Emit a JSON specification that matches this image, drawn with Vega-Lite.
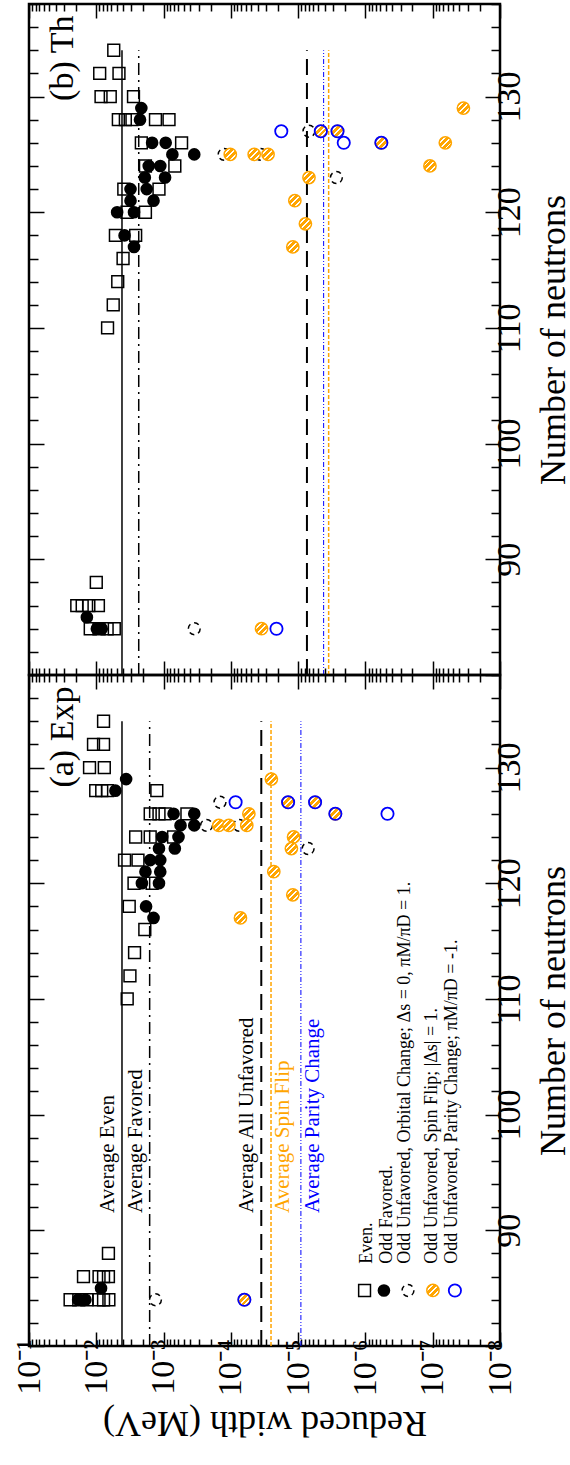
{
"$schema":"https://vega.github.io/schema/vega-lite/v6.json",
"padding":{"left":10,"top":2,"right":0,"bottom":0},
"background":"white",
"spacing":0,
"bounds":"flush",
"config":{"view":{"stroke":"black","strokeWidth":2.5},"font":"Liberation Serif",
"axis":{"grid":false,"domain":false,"tickColor":"black","tickWidth":1.5,"labelColor":"black","titleColor":"black","labelFont":"Liberation Serif","titleFont":"Liberation Serif","labelFontSize":34,"titleFontSize":36,"titleFontWeight":"normal","labelOverlap":false,"labelFlush":false,"labelBound":false},
"text":{"font":"Liberation Serif"}},
"datasets":{
"pts":[
{"p":"a","t":"E","n":134,"w":0.0078},{"p":"a","t":"E","n":132,"w":0.011},{"p":"a","t":"E","n":132,"w":0.0078},{"p":"a","t":"E","n":130,"w":0.0126},{"p":"a","t":"E","n":130,"w":0.0076},{"p":"a","t":"E","n":128,"w":0.0102},{"p":"a","t":"E","n":128,"w":0.0083},{"p":"a","t":"E","n":128,"w":0.0068},{"p":"a","t":"E","n":128,"w":0.00126},{"p":"a","t":"E","n":126,"w":0.00158},{"p":"a","t":"E","n":126,"w":0.00117},{"p":"a","t":"E","n":126,"w":0.00095},{"p":"a","t":"E","n":126,"w":0.00045},{"p":"a","t":"E","n":124,"w":0.0026},{"p":"a","t":"E","n":124,"w":0.00158},{"p":"a","t":"E","n":124,"w":0.00071},{"p":"a","t":"E","n":122,"w":0.0038},{"p":"a","t":"E","n":122,"w":0.0024},{"p":"a","t":"E","n":120,"w":0.00275},{"p":"a","t":"E","n":120,"w":0.00148},{"p":"a","t":"E","n":118,"w":0.00324},{"p":"a","t":"E","n":116,"w":0.0019},{"p":"a","t":"E","n":114,"w":0.0027},{"p":"a","t":"E","n":112,"w":0.00316},{"p":"a","t":"E","n":110,"w":0.00347},{"p":"a","t":"E","n":88,"w":0.0066},{"p":"a","t":"E","n":86,"w":0.0155},{"p":"a","t":"E","n":86,"w":0.0091},{"p":"a","t":"E","n":86,"w":0.0078},{"p":"a","t":"E","n":86,"w":0.0066},{"p":"a","t":"E","n":84,"w":0.0245},{"p":"a","t":"E","n":84,"w":0.0182},{"p":"a","t":"E","n":84,"w":0.0138},{"p":"a","t":"E","n":84,"w":0.0091},{"p":"a","t":"E","n":84,"w":0.0078},{"p":"a","t":"E","n":84,"w":0.0065},
{"p":"a","t":"F","n":129,"w":0.0036},{"p":"a","t":"F","n":128,"w":0.0052},{"p":"a","t":"F","n":126,"w":0.00071},{"p":"a","t":"F","n":126,"w":0.00035},{"p":"a","t":"F","n":125,"w":0.00056},{"p":"a","t":"F","n":125,"w":0.00035},{"p":"a","t":"F","n":124,"w":0.00105},{"p":"a","t":"F","n":124,"w":0.0006},{"p":"a","t":"F","n":123,"w":0.00117},{"p":"a","t":"F","n":123,"w":0.00068},{"p":"a","t":"F","n":122,"w":0.00158},{"p":"a","t":"F","n":122,"w":0.00112},{"p":"a","t":"F","n":121,"w":0.00186},{"p":"a","t":"F","n":121,"w":0.00112},{"p":"a","t":"F","n":120,"w":0.0021},{"p":"a","t":"F","n":120,"w":0.00117},{"p":"a","t":"F","n":118,"w":0.00182},{"p":"a","t":"F","n":117,"w":0.00141},{"p":"a","t":"F","n":85,"w":0.0085},{"p":"a","t":"F","n":84,"w":0.0186},{"p":"a","t":"F","n":84,"w":0.0145},
{"p":"a","t":"O","n":127,"w":0.000145},{"p":"a","t":"O","n":125,"w":0.00023},{"p":"a","t":"O","n":125,"w":0.000075},{"p":"a","t":"O","n":123,"w":0.0000071},{"p":"a","t":"O","n":84,"w":0.00132},
{"p":"a","t":"S","n":129,"w":0.000025},{"p":"a","t":"S","n":127,"w":0.0000141},{"p":"a","t":"S","n":127,"w":0.0000056},{"p":"a","t":"S","n":126,"w":0.000054},{"p":"a","t":"S","n":126,"w":0.0000028},{"p":"a","t":"S","n":125,"w":0.000151},{"p":"a","t":"S","n":125,"w":0.000107},{"p":"a","t":"S","n":125,"w":0.000058},{"p":"a","t":"S","n":124,"w":0.0000117},{"p":"a","t":"S","n":123,"w":0.0000126},{"p":"a","t":"S","n":121,"w":0.000023},{"p":"a","t":"S","n":119,"w":0.000012},{"p":"a","t":"S","n":117,"w":0.000072},{"p":"a","t":"S","n":84,"w":0.000063},
{"p":"a","t":"P","n":127,"w":0.000085},{"p":"a","t":"P","n":127,"w":0.0000141},{"p":"a","t":"P","n":127,"w":0.0000056},{"p":"a","t":"P","n":126,"w":0.0000028},{"p":"a","t":"P","n":126,"w":0.00000047},{"p":"a","t":"P","n":84,"w":0.000063},
{"p":"b","t":"E","n":134,"w":0.0055},{"p":"b","t":"E","n":132,"w":0.0089},{"p":"b","t":"E","n":132,"w":0.0046},{"p":"b","t":"E","n":130,"w":0.0085},{"p":"b","t":"E","n":130,"w":0.0062},{"p":"b","t":"E","n":130,"w":0.0028},{"p":"b","t":"E","n":128,"w":0.0047},{"p":"b","t":"E","n":128,"w":0.0037},{"p":"b","t":"E","n":128,"w":0.00295},{"p":"b","t":"E","n":128,"w":0.00132},{"p":"b","t":"E","n":128,"w":0.00083},{"p":"b","t":"E","n":126,"w":0.00214},{"p":"b","t":"E","n":126,"w":0.00054},{"p":"b","t":"E","n":124,"w":0.00186},{"p":"b","t":"E","n":124,"w":0.00068},{"p":"b","t":"E","n":122,"w":0.0039},{"p":"b","t":"E","n":122,"w":0.00117},{"p":"b","t":"E","n":120,"w":0.0035},{"p":"b","t":"E","n":120,"w":0.00186},{"p":"b","t":"E","n":118,"w":0.0052},{"p":"b","t":"E","n":118,"w":0.0026},{"p":"b","t":"E","n":116,"w":0.004},{"p":"b","t":"E","n":114,"w":0.0048},{"p":"b","t":"E","n":112,"w":0.0056},{"p":"b","t":"E","n":110,"w":0.0068},{"p":"b","t":"E","n":88,"w":0.01},{"p":"b","t":"E","n":86,"w":0.0195},{"p":"b","t":"E","n":86,"w":0.0162},{"p":"b","t":"E","n":86,"w":0.0129},{"p":"b","t":"E","n":86,"w":0.0093},{"p":"b","t":"E","n":84,"w":0.0123},{"p":"b","t":"E","n":84,"w":0.0091},{"p":"b","t":"E","n":84,"w":0.0069},{"p":"b","t":"E","n":84,"w":0.0054},
{"p":"b","t":"F","n":129,"w":0.00214},{"p":"b","t":"F","n":128,"w":0.00224},{"p":"b","t":"F","n":126,"w":0.00148},{"p":"b","t":"F","n":126,"w":0.00093},{"p":"b","t":"F","n":125,"w":0.00074},{"p":"b","t":"F","n":125,"w":0.00035},{"p":"b","t":"F","n":124,"w":0.00166},{"p":"b","t":"F","n":124,"w":0.00112},{"p":"b","t":"F","n":123,"w":0.0019},{"p":"b","t":"F","n":123,"w":0.00095},{"p":"b","t":"F","n":122,"w":0.0031},{"p":"b","t":"F","n":122,"w":0.00178},{"p":"b","t":"F","n":121,"w":0.0031},{"p":"b","t":"F","n":121,"w":0.00141},{"p":"b","t":"F","n":120,"w":0.0049},{"p":"b","t":"F","n":120,"w":0.00275},{"p":"b","t":"F","n":118,"w":0.0038},{"p":"b","t":"F","n":117,"w":0.00275},{"p":"b","t":"F","n":85,"w":0.0138},{"p":"b","t":"F","n":84,"w":0.0098},{"p":"b","t":"F","n":84,"w":0.0083},
{"p":"b","t":"O","n":127,"w":0.0000069},{"p":"b","t":"O","n":125,"w":0.000126},{"p":"b","t":"O","n":125,"w":0.000036},{"p":"b","t":"O","n":123,"w":0.0000027},{"p":"b","t":"O","n":84,"w":0.00035},
{"p":"b","t":"S","n":129,"w":0.000000035},{"p":"b","t":"S","n":127,"w":0.0000046},{"p":"b","t":"S","n":127,"w":0.0000026},{"p":"b","t":"S","n":126,"w":0.00000058},{"p":"b","t":"S","n":126,"w":0.000000065},{"p":"b","t":"S","n":125,"w":0.000102},{"p":"b","t":"S","n":125,"w":0.000045},{"p":"b","t":"S","n":125,"w":0.000028},{"p":"b","t":"S","n":124,"w":0.00000011},{"p":"b","t":"S","n":123,"w":0.0000069},{"p":"b","t":"S","n":121,"w":0.0000112},{"p":"b","t":"S","n":119,"w":0.0000078},{"p":"b","t":"S","n":117,"w":0.000012},{"p":"b","t":"S","n":84,"w":0.000035},
{"p":"b","t":"P","n":127,"w":0.0000178},{"p":"b","t":"P","n":127,"w":0.0000046},{"p":"b","t":"P","n":127,"w":0.0000026},{"p":"b","t":"P","n":126,"w":0.0000021},{"p":"b","t":"P","n":126,"w":0.00000058},{"p":"b","t":"P","n":84,"w":0.000021}
],
"avg":[
{"p":"a","k":"even","w":0.00415,"label":"Average Even"},{"p":"a","k":"fav","w":0.00161,"label":"Average Favored"},{"p":"a","k":"unf","w":0.0000353,"label":"Average All Unfavored"},{"p":"a","k":"spin","w":0.0000253,"label":"Average Spin Flip"},{"p":"a","k":"par","w":0.0000091,"label":"Average Parity Change"},
{"p":"b","k":"even","w":0.00415,"label":""},{"p":"b","k":"fav","w":0.00234,"label":""},{"p":"b","k":"unf","w":0.0000074,"label":""},{"p":"b","k":"spin","w":0.00000352,"label":""},{"p":"b","k":"par","w":0.00000418,"label":""}
]},
"vconcat":[
{"width":471,"height":671,"resolve":{"axis":{"x":"independent","y":"independent"}},
"layer":[
{"data":{"name":"avg"},"transform":[{"filter":"datum.p=='b' && datum.k=='even'"}],"mark":{"type":"rule","color":"black","strokeWidth":1.5},"encoding":{"x":{"field":"w","type":"quantitative","scale":{"type":"log","domain":[1e-8,0.1],"reverse":true},"axis":null},"y":{"datum":80,"type":"quantitative","scale":{"domain":[80,138],"nice":false,"zero":false},"axis":null},"y2":{"datum":134}}},
{"data":{"name":"avg"},"transform":[{"filter":"datum.p=='b' && datum.k=='fav'"}],"mark":{"type":"rule","color":"black","strokeWidth":1.5,"strokeDash":[12,5,2,5]},"encoding":{"x":{"field":"w","type":"quantitative","scale":{"type":"log","domain":[1e-8,0.1],"reverse":true},"axis":null},"y":{"datum":80,"type":"quantitative","scale":{"domain":[80,138],"nice":false,"zero":false},"axis":null},"y2":{"datum":134}}},
{"data":{"name":"avg"},"transform":[{"filter":"datum.p=='b' && datum.k=='unf'"}],"mark":{"type":"rule","color":"black","strokeWidth":2,"strokeDash":[16,8]},"encoding":{"x":{"field":"w","type":"quantitative","scale":{"type":"log","domain":[1e-8,0.1],"reverse":true},"axis":null},"y":{"datum":80,"type":"quantitative","scale":{"domain":[80,138],"nice":false,"zero":false},"axis":null},"y2":{"datum":134}}},
{"data":{"name":"avg"},"transform":[{"filter":"datum.p=='b' && datum.k=='spin'"}],"mark":{"type":"rule","color":"#FFA500","strokeWidth":1.5,"strokeDash":[4,2]},"encoding":{"x":{"field":"w","type":"quantitative","scale":{"type":"log","domain":[1e-8,0.1],"reverse":true},"axis":null},"y":{"datum":80,"type":"quantitative","scale":{"domain":[80,138],"nice":false,"zero":false},"axis":null},"y2":{"datum":134}}},
{"data":{"name":"avg"},"transform":[{"filter":"datum.p=='b' && datum.k=='par'"}],"mark":{"type":"rule","color":"#0000FF","strokeWidth":1,"strokeDash":[5,2,1,2,1,2]},"encoding":{"x":{"field":"w","type":"quantitative","scale":{"type":"log","domain":[1e-8,0.1],"reverse":true},"axis":null},"y":{"datum":80,"type":"quantitative","scale":{"domain":[80,138],"nice":false,"zero":false},"axis":null},"y2":{"datum":134}}},
{"data":{"name":"pts"},"transform":[{"filter":"datum.p=='b' && datum.t=='E'"}],"mark":{"type":"point","shape":"square","filled":false,"stroke":"black","strokeWidth":1.5,"size":140,"opacity":1},"encoding":{"x":{"field":"w","type":"quantitative","scale":{"type":"log","domain":[1e-8,0.1],"reverse":true},"axis":{"orient":"bottom","values":[1e-8,2e-8,3e-8,4e-8,5e-8,6e-8,7e-8,8e-8,9e-8,1e-7,2e-7,3e-7,4e-7,5e-7,6e-7,7e-7,8e-7,9e-7,1e-6,2e-6,3e-6,4e-6,5e-6,6e-6,7e-6,8e-6,9e-6,1e-5,2e-5,3e-5,4e-5,5e-5,6e-5,7e-5,8e-5,9e-5,0.0001,0.0002,0.0003,0.0004,0.0005,0.0006,0.0007,0.0008,0.0009,0.001,0.002,0.003,0.004,0.005,0.006,0.007,0.008,0.009,0.01,0.02,0.03,0.04,0.05,0.06,0.07,0.08,0.09,0.1],"labels":false,"title":null,"tickSize":{"condition":{"test":"abs(log(datum.value)/LN10 - round(log(datum.value)/LN10)) < 0.001","value":-14},"value":-7}}},"y":{"field":"n","type":"quantitative","scale":{"domain":[80,138],"nice":false,"zero":false},"axis":{"orient":"right","values":[80,82,84,86,88,90,92,94,96,98,100,102,104,106,108,110,112,114,116,118,120,122,124,126,128,130,132,134,136,138],"labelExpr":"datum.value % 10 == 0 && datum.value > 80 ? datum.label : ''","tickSize":{"condition":{"test":"datum.value % 10 == 0","value":-15},"value":-9},"labelAngle":270,"labelAlign":"center","labelBaseline":"top","labelPadding":7,"title":"Number of neutrons","titleAngle":270,"titleBaseline":"top","titlePadding":4}}}},
{"data":{"name":"pts"},"transform":[{"filter":"datum.p=='b' && datum.t=='F'"}],"mark":{"type":"circle","color":"black","size":160,"opacity":1},"encoding":{"x":{"field":"w","type":"quantitative","scale":{"type":"log","domain":[1e-8,0.1],"reverse":true},"axis":{"orient":"top","values":[1e-8,2e-8,3e-8,4e-8,5e-8,6e-8,7e-8,8e-8,9e-8,1e-7,2e-7,3e-7,4e-7,5e-7,6e-7,7e-7,8e-7,9e-7,1e-6,2e-6,3e-6,4e-6,5e-6,6e-6,7e-6,8e-6,9e-6,1e-5,2e-5,3e-5,4e-5,5e-5,6e-5,7e-5,8e-5,9e-5,0.0001,0.0002,0.0003,0.0004,0.0005,0.0006,0.0007,0.0008,0.0009,0.001,0.002,0.003,0.004,0.005,0.006,0.007,0.008,0.009,0.01,0.02,0.03,0.04,0.05,0.06,0.07,0.08,0.09,0.1],"labels":false,"title":null,"tickSize":{"condition":{"test":"abs(log(datum.value)/LN10 - round(log(datum.value)/LN10)) < 0.001","value":-14},"value":-7}}},"y":{"field":"n","type":"quantitative","scale":{"domain":[80,138],"nice":false,"zero":false},"axis":{"orient":"left","values":[80,82,84,86,88,90,92,94,96,98,100,102,104,106,108,110,112,114,116,118,120,122,124,126,128,130,132,134,136,138],"labels":false,"title":null,"tickSize":{"condition":{"test":"datum.value % 10 == 0","value":-15},"value":-9}}}}},
{"data":{"name":"pts"},"transform":[{"filter":"datum.p=='b' && datum.t=='O'"}],"mark":{"type":"point","shape":"circle","filled":false,"stroke":"black","strokeWidth":1.5,"strokeDash":[5,4],"size":140,"opacity":1},"encoding":{"x":{"field":"w","type":"quantitative","scale":{"type":"log","domain":[1e-8,0.1],"reverse":true},"axis":null},"y":{"field":"n","type":"quantitative","scale":{"domain":[80,138],"nice":false,"zero":false},"axis":null}}},
{"data":{"name":"pts"},"transform":[{"filter":"datum.p=='b' && datum.t=='S'"}],"mark":{"type":"point","shape":"circle","filled":true,"opacity":1,"stroke":"#FFA500","strokeWidth":1.5,"size":150,"fill":{"gradient":"linear","x1":0,"y1":0,"x2":1,"y2":1,"stops":[{"offset":0,"color":"#FFA500"},{"offset":0.22,"color":"#FFA500"},{"offset":0.22,"color":"white"},{"offset":0.3,"color":"white"},{"offset":0.3,"color":"#FFA500"},{"offset":0.46,"color":"#FFA500"},{"offset":0.46,"color":"white"},{"offset":0.54,"color":"white"},{"offset":0.54,"color":"#FFA500"},{"offset":0.7,"color":"#FFA500"},{"offset":0.7,"color":"white"},{"offset":0.78,"color":"white"},{"offset":0.78,"color":"#FFA500"},{"offset":1,"color":"#FFA500"}]}},"encoding":{"x":{"field":"w","type":"quantitative","scale":{"type":"log","domain":[1e-8,0.1],"reverse":true},"axis":null},"y":{"field":"n","type":"quantitative","scale":{"domain":[80,138],"nice":false,"zero":false},"axis":null}}},
{"data":{"name":"pts"},"transform":[{"filter":"datum.p=='b' && datum.t=='P'"}],"mark":{"type":"point","shape":"circle","filled":false,"stroke":"#0000FF","strokeWidth":1.8,"size":150,"opacity":1},"encoding":{"x":{"field":"w","type":"quantitative","scale":{"type":"log","domain":[1e-8,0.1],"reverse":true},"axis":null},"y":{"field":"n","type":"quantitative","scale":{"domain":[80,138],"nice":false,"zero":false},"axis":null}}},
{"data":{"values":[{"label":"(b) Th"}]},"mark":{"type":"text","angle":270,"align":"right","baseline":"alphabetic","fontSize":34,"color":"black","font":"Liberation Serif"},"encoding":{"x":{"datum":0.022,"type":"quantitative","scale":{"type":"log","domain":[1e-8,0.1],"reverse":true},"axis":null},"y":{"datum":137,"type":"quantitative","scale":{"domain":[80,138],"nice":false,"zero":false},"axis":null},"text":{"field":"label"}}}
]},
{"width":471,"height":671,"resolve":{"axis":{"x":"independent","y":"independent"}},
"layer":[
{"data":{"name":"avg"},"transform":[{"filter":"datum.p=='a' && datum.k=='even'"}],"mark":{"type":"rule","color":"black","strokeWidth":1.5},"encoding":{"x":{"field":"w","type":"quantitative","scale":{"type":"log","domain":[1e-8,0.1],"reverse":true},"axis":null},"y":{"datum":80,"type":"quantitative","scale":{"domain":[80,138],"nice":false,"zero":false},"axis":null},"y2":{"datum":134}}},
{"data":{"name":"avg"},"transform":[{"filter":"datum.p=='a' && datum.k=='fav'"}],"mark":{"type":"rule","color":"black","strokeWidth":1.5,"strokeDash":[12,5,2,5]},"encoding":{"x":{"field":"w","type":"quantitative","scale":{"type":"log","domain":[1e-8,0.1],"reverse":true},"axis":null},"y":{"datum":80,"type":"quantitative","scale":{"domain":[80,138],"nice":false,"zero":false},"axis":null},"y2":{"datum":134}}},
{"data":{"name":"avg"},"transform":[{"filter":"datum.p=='a' && datum.k=='unf'"}],"mark":{"type":"rule","color":"black","strokeWidth":2,"strokeDash":[16,8]},"encoding":{"x":{"field":"w","type":"quantitative","scale":{"type":"log","domain":[1e-8,0.1],"reverse":true},"axis":null},"y":{"datum":80,"type":"quantitative","scale":{"domain":[80,138],"nice":false,"zero":false},"axis":null},"y2":{"datum":134}}},
{"data":{"name":"avg"},"transform":[{"filter":"datum.p=='a' && datum.k=='spin'"}],"mark":{"type":"rule","color":"#FFA500","strokeWidth":1.5,"strokeDash":[4,2]},"encoding":{"x":{"field":"w","type":"quantitative","scale":{"type":"log","domain":[1e-8,0.1],"reverse":true},"axis":null},"y":{"datum":80,"type":"quantitative","scale":{"domain":[80,138],"nice":false,"zero":false},"axis":null},"y2":{"datum":134}}},
{"data":{"name":"avg"},"transform":[{"filter":"datum.p=='a' && datum.k=='par'"}],"mark":{"type":"rule","color":"#0000FF","strokeWidth":1,"strokeDash":[5,2,1,2,1,2]},"encoding":{"x":{"field":"w","type":"quantitative","scale":{"type":"log","domain":[1e-8,0.1],"reverse":true},"axis":null},"y":{"datum":80,"type":"quantitative","scale":{"domain":[80,138],"nice":false,"zero":false},"axis":null},"y2":{"datum":134}}},
{"data":{"name":"pts"},"transform":[{"filter":"datum.p=='a' && datum.t=='E'"}],"mark":{"type":"point","shape":"square","filled":false,"stroke":"black","strokeWidth":1.5,"size":140,"opacity":1},"encoding":{"x":{"field":"w","type":"quantitative","scale":{"type":"log","domain":[1e-8,0.1],"reverse":true},"axis":{"orient":"bottom","values":[1e-8,2e-8,3e-8,4e-8,5e-8,6e-8,7e-8,8e-8,9e-8,1e-7,2e-7,3e-7,4e-7,5e-7,6e-7,7e-7,8e-7,9e-7,1e-6,2e-6,3e-6,4e-6,5e-6,6e-6,7e-6,8e-6,9e-6,1e-5,2e-5,3e-5,4e-5,5e-5,6e-5,7e-5,8e-5,9e-5,0.0001,0.0002,0.0003,0.0004,0.0005,0.0006,0.0007,0.0008,0.0009,0.001,0.002,0.003,0.004,0.005,0.006,0.007,0.008,0.009,0.01,0.02,0.03,0.04,0.05,0.06,0.07,0.08,0.09,0.1],"labelExpr":"abs(log(datum.value)/LN10 - round(log(datum.value)/LN10)) < 0.001 ? '10' + ['⁰','⁻¹','⁻²','⁻³','⁻⁴','⁻⁵','⁻⁶','⁻⁷','⁻⁸'][-round(log(datum.value)/LN10)] : ''","tickSize":{"condition":{"test":"abs(log(datum.value)/LN10 - round(log(datum.value)/LN10)) < 0.001","value":-14},"value":-7},"labelAngle":270,"labelAlign":"right","labelBaseline":"middle","labelPadding":7,"title":"Reduced width (MeV)","titleAngle":180,"titleBaseline":"bottom","titlePadding":8}},"y":{"field":"n","type":"quantitative","scale":{"domain":[80,138],"nice":false,"zero":false},"axis":{"orient":"right","values":[80,82,84,86,88,90,92,94,96,98,100,102,104,106,108,110,112,114,116,118,120,122,124,126,128,130,132,134,136,138],"labelExpr":"datum.value % 10 == 0 && datum.value > 80 ? datum.label : ''","tickSize":{"condition":{"test":"datum.value % 10 == 0","value":-15},"value":-9},"labelAngle":270,"labelAlign":"center","labelBaseline":"top","labelPadding":7,"title":"Number of neutrons","titleAngle":270,"titleBaseline":"top","titlePadding":4}}}},
{"data":{"name":"pts"},"transform":[{"filter":"datum.p=='a' && datum.t=='F'"}],"mark":{"type":"circle","color":"black","size":160,"opacity":1},"encoding":{"x":{"field":"w","type":"quantitative","scale":{"type":"log","domain":[1e-8,0.1],"reverse":true},"axis":{"orient":"top","values":[1e-8,2e-8,3e-8,4e-8,5e-8,6e-8,7e-8,8e-8,9e-8,1e-7,2e-7,3e-7,4e-7,5e-7,6e-7,7e-7,8e-7,9e-7,1e-6,2e-6,3e-6,4e-6,5e-6,6e-6,7e-6,8e-6,9e-6,1e-5,2e-5,3e-5,4e-5,5e-5,6e-5,7e-5,8e-5,9e-5,0.0001,0.0002,0.0003,0.0004,0.0005,0.0006,0.0007,0.0008,0.0009,0.001,0.002,0.003,0.004,0.005,0.006,0.007,0.008,0.009,0.01,0.02,0.03,0.04,0.05,0.06,0.07,0.08,0.09,0.1],"labels":false,"title":null,"tickSize":{"condition":{"test":"abs(log(datum.value)/LN10 - round(log(datum.value)/LN10)) < 0.001","value":-14},"value":-7}}},"y":{"field":"n","type":"quantitative","scale":{"domain":[80,138],"nice":false,"zero":false},"axis":{"orient":"left","values":[80,82,84,86,88,90,92,94,96,98,100,102,104,106,108,110,112,114,116,118,120,122,124,126,128,130,132,134,136,138],"labels":false,"title":null,"tickSize":{"condition":{"test":"datum.value % 10 == 0","value":-15},"value":-9}}}}},
{"data":{"name":"pts"},"transform":[{"filter":"datum.p=='a' && datum.t=='O'"}],"mark":{"type":"point","shape":"circle","filled":false,"stroke":"black","strokeWidth":1.5,"strokeDash":[5,4],"size":140,"opacity":1},"encoding":{"x":{"field":"w","type":"quantitative","scale":{"type":"log","domain":[1e-8,0.1],"reverse":true},"axis":null},"y":{"field":"n","type":"quantitative","scale":{"domain":[80,138],"nice":false,"zero":false},"axis":null}}},
{"data":{"name":"pts"},"transform":[{"filter":"datum.p=='a' && datum.t=='S'"}],"mark":{"type":"point","shape":"circle","filled":true,"opacity":1,"stroke":"#FFA500","strokeWidth":1.5,"size":150,"fill":{"gradient":"linear","x1":0,"y1":0,"x2":1,"y2":1,"stops":[{"offset":0,"color":"#FFA500"},{"offset":0.22,"color":"#FFA500"},{"offset":0.22,"color":"white"},{"offset":0.3,"color":"white"},{"offset":0.3,"color":"#FFA500"},{"offset":0.46,"color":"#FFA500"},{"offset":0.46,"color":"white"},{"offset":0.54,"color":"white"},{"offset":0.54,"color":"#FFA500"},{"offset":0.7,"color":"#FFA500"},{"offset":0.7,"color":"white"},{"offset":0.78,"color":"white"},{"offset":0.78,"color":"#FFA500"},{"offset":1,"color":"#FFA500"}]}},"encoding":{"x":{"field":"w","type":"quantitative","scale":{"type":"log","domain":[1e-8,0.1],"reverse":true},"axis":null},"y":{"field":"n","type":"quantitative","scale":{"domain":[80,138],"nice":false,"zero":false},"axis":null}}},
{"data":{"name":"pts"},"transform":[{"filter":"datum.p=='a' && datum.t=='P'"}],"mark":{"type":"point","shape":"circle","filled":false,"stroke":"#0000FF","strokeWidth":1.8,"size":150,"opacity":1},"encoding":{"x":{"field":"w","type":"quantitative","scale":{"type":"log","domain":[1e-8,0.1],"reverse":true},"axis":null},"y":{"field":"n","type":"quantitative","scale":{"domain":[80,138],"nice":false,"zero":false},"axis":null}}},
{"data":{"name":"avg"},"transform":[{"filter":"datum.p=='a' && (datum.k=='even' || datum.k=='fav' || datum.k=='unf')"}],"mark":{"type":"text","angle":270,"align":"left","baseline":"alphabetic","dy":-8,"fontSize":21,"color":"black","font":"Liberation Serif"},"encoding":{"x":{"field":"w","type":"quantitative","scale":{"type":"log","domain":[1e-8,0.1],"reverse":true},"axis":null},"y":{"datum":91.5,"type":"quantitative","scale":{"domain":[80,138],"nice":false,"zero":false},"axis":null},"text":{"field":"label"}}},
{"data":{"name":"avg"},"transform":[{"filter":"datum.p=='a' && datum.k=='spin'"}],"mark":{"type":"text","angle":270,"align":"left","baseline":"alphabetic","dy":18,"fontSize":21,"color":"#FFA500","font":"Liberation Serif"},"encoding":{"x":{"field":"w","type":"quantitative","scale":{"type":"log","domain":[1e-8,0.1],"reverse":true},"axis":null},"y":{"datum":91.5,"type":"quantitative","scale":{"domain":[80,138],"nice":false,"zero":false},"axis":null},"text":{"field":"label"}}},
{"data":{"name":"avg"},"transform":[{"filter":"datum.p=='a' && datum.k=='par'"}],"mark":{"type":"text","angle":270,"align":"left","baseline":"alphabetic","dy":18,"fontSize":21,"color":"#0000FF","font":"Liberation Serif"},"encoding":{"x":{"field":"w","type":"quantitative","scale":{"type":"log","domain":[1e-8,0.1],"reverse":true},"axis":null},"y":{"datum":91.5,"type":"quantitative","scale":{"domain":[80,138],"nice":false,"zero":false},"axis":null},"text":{"field":"label"}}},
{"data":{"values":[{"label":"(a) Exp"}]},"mark":{"type":"text","angle":270,"align":"right","baseline":"alphabetic","fontSize":34,"color":"black","font":"Liberation Serif"},"encoding":{"x":{"datum":0.022,"type":"quantitative","scale":{"type":"log","domain":[1e-8,0.1],"reverse":true},"axis":null},"y":{"datum":137,"type":"quantitative","scale":{"domain":[80,138],"nice":false,"zero":false},"axis":null},"text":{"field":"label"}}},
{"data":{"values":[{"label":"Even."}]},"layer":[
{"mark":{"type":"point","shape":"square","filled":false,"stroke":"black","strokeWidth":1.5,"size":140,"opacity":1},"encoding":{"x":{"datum":1.03e-6,"type":"quantitative","scale":{"type":"log","domain":[1e-8,0.1],"reverse":true},"axis":null},"y":{"datum":84.8,"type":"quantitative","scale":{"domain":[80,138],"nice":false,"zero":false},"axis":null}}},
{"mark":{"type":"text","angle":270,"align":"left","baseline":"alphabetic","fontSize":18,"color":"black","font":"Liberation Serif"},"encoding":{"x":{"datum":8.0e-7,"type":"quantitative","scale":{"type":"log","domain":[1e-8,0.1],"reverse":true},"axis":null},"y":{"datum":87.1,"type":"quantitative","scale":{"domain":[80,138],"nice":false,"zero":false},"axis":null},"text":{"field":"label"}}}]},
{"data":{"values":[{"label":"Odd Favored."}]},"layer":[
{"mark":{"type":"circle","color":"black","size":160,"opacity":1},"encoding":{"x":{"datum":5.31e-7,"type":"quantitative","scale":{"type":"log","domain":[1e-8,0.1],"reverse":true},"axis":null},"y":{"datum":84.8,"type":"quantitative","scale":{"domain":[80,138],"nice":false,"zero":false},"axis":null}}},
{"mark":{"type":"text","angle":270,"align":"left","baseline":"alphabetic","fontSize":18,"color":"black","font":"Liberation Serif"},"encoding":{"x":{"datum":4.04e-7,"type":"quantitative","scale":{"type":"log","domain":[1e-8,0.1],"reverse":true},"axis":null},"y":{"datum":87.1,"type":"quantitative","scale":{"domain":[80,138],"nice":false,"zero":false},"axis":null},"text":{"field":"label"}}}]},
{"data":{"values":[{"label":"Odd Unfavored, Orbital Change; Δs = 0, πM/πD = 1."}]},"layer":[
{"mark":{"type":"point","shape":"circle","filled":false,"stroke":"black","strokeWidth":1.5,"strokeDash":[5,4],"size":140,"opacity":1},"encoding":{"x":{"datum":2.33e-7,"type":"quantitative","scale":{"type":"log","domain":[1e-8,0.1],"reverse":true},"axis":null},"y":{"datum":84.8,"type":"quantitative","scale":{"domain":[80,138],"nice":false,"zero":false},"axis":null}}},
{"mark":{"type":"text","angle":270,"align":"left","baseline":"alphabetic","fontSize":18,"color":"black","font":"Liberation Serif"},"encoding":{"x":{"datum":2.18e-7,"type":"quantitative","scale":{"type":"log","domain":[1e-8,0.1],"reverse":true},"axis":null},"y":{"datum":87.1,"type":"quantitative","scale":{"domain":[80,138],"nice":false,"zero":false},"axis":null},"text":{"field":"label"}}}]},
{"data":{"values":[{"label":"Odd Unfavored, Spin Flip; |Δs| = 1."}]},"layer":[
{"mark":{"type":"point","shape":"circle","filled":true,"opacity":1,"stroke":"#FFA500","strokeWidth":1.5,"size":150,"fill":{"gradient":"linear","x1":0,"y1":0,"x2":1,"y2":1,"stops":[{"offset":0,"color":"#FFA500"},{"offset":0.22,"color":"#FFA500"},{"offset":0.22,"color":"white"},{"offset":0.3,"color":"white"},{"offset":0.3,"color":"#FFA500"},{"offset":0.46,"color":"#FFA500"},{"offset":0.46,"color":"white"},{"offset":0.54,"color":"white"},{"offset":0.54,"color":"#FFA500"},{"offset":0.7,"color":"#FFA500"},{"offset":0.7,"color":"white"},{"offset":0.78,"color":"white"},{"offset":0.78,"color":"#FFA500"},{"offset":1,"color":"#FFA500"}]}},"encoding":{"x":{"datum":9.93e-8,"type":"quantitative","scale":{"type":"log","domain":[1e-8,0.1],"reverse":true},"axis":null},"y":{"datum":84.8,"type":"quantitative","scale":{"domain":[80,138],"nice":false,"zero":false},"axis":null}}},
{"mark":{"type":"text","angle":270,"align":"left","baseline":"alphabetic","fontSize":18,"color":"black","font":"Liberation Serif"},"encoding":{"x":{"datum":8.67e-8,"type":"quantitative","scale":{"type":"log","domain":[1e-8,0.1],"reverse":true},"axis":null},"y":{"datum":87.1,"type":"quantitative","scale":{"domain":[80,138],"nice":false,"zero":false},"axis":null},"text":{"field":"label"}}}]},
{"data":{"values":[{"label":"Odd Unfavored, Parity Change; πM/πD = -1."}]},"layer":[
{"mark":{"type":"point","shape":"circle","filled":false,"stroke":"#0000FF","strokeWidth":1.8,"size":150,"opacity":1},"encoding":{"x":{"datum":4.68e-8,"type":"quantitative","scale":{"type":"log","domain":[1e-8,0.1],"reverse":true},"axis":null},"y":{"datum":84.8,"type":"quantitative","scale":{"domain":[80,138],"nice":false,"zero":false},"axis":null}}},
{"mark":{"type":"text","angle":270,"align":"left","baseline":"alphabetic","fontSize":18,"color":"black","font":"Liberation Serif"},"encoding":{"x":{"datum":4.37e-8,"type":"quantitative","scale":{"type":"log","domain":[1e-8,0.1],"reverse":true},"axis":null},"y":{"datum":87.1,"type":"quantitative","scale":{"domain":[80,138],"nice":false,"zero":false},"axis":null},"text":{"field":"label"}}}]}
]}
]
}
